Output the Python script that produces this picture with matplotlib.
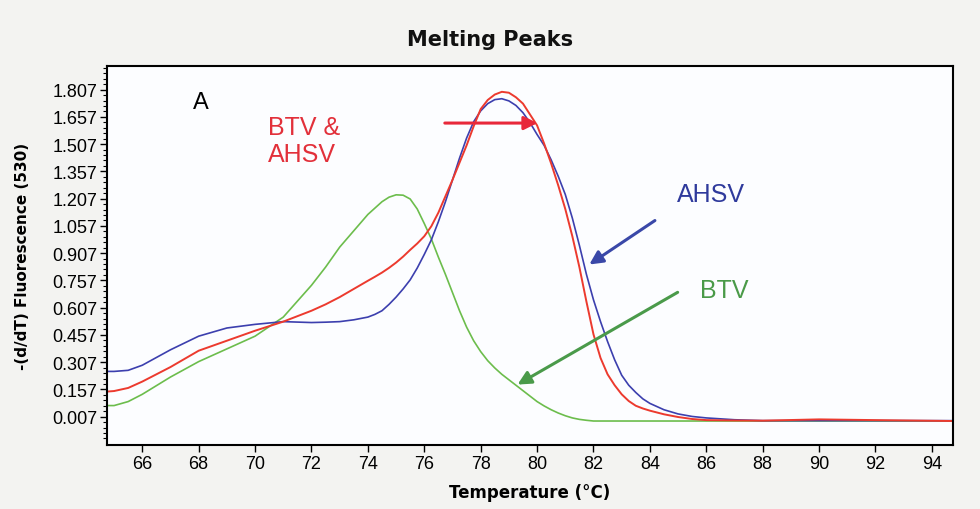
import matplotlib.pyplot as plt
from matplotlib.ticker import FixedLocator

# Temperatures (deg C) at which each melt curve was read
temp = [64.75, 65, 65.5, 66, 67, 68, 69, 70, 71, 72, 72.5, 73, 73.5,
        74, 74.25, 74.5, 74.75, 75, 75.25, 75.5, 75.75,
        76, 76.25, 76.5, 76.75, 77, 77.25, 77.5, 77.75,
        78, 78.25, 78.5, 78.75, 79, 79.25, 79.5, 79.75,
        80, 80.25, 80.5, 80.75, 81, 81.25, 81.5, 81.75,
        82, 82.25, 82.5, 82.75, 83, 83.25, 83.5, 83.75,
        84, 84.5, 85, 85.5, 86, 87, 88, 90, 92, 94.75]

# -(d/dT) fluorescence (530)
ahsv = [0.256, 0.256, 0.262, 0.29, 0.375, 0.45, 0.495, 0.515, 0.53, 0.525, 0.527, 0.53, 0.54,
        0.555, 0.57, 0.59, 0.625, 0.665, 0.71, 0.76, 0.825,
        0.9, 0.98, 1.08, 1.19, 1.31, 1.43, 1.54, 1.63,
        1.69, 1.73, 1.752, 1.757, 1.745, 1.72, 1.68, 1.625,
        1.56, 1.5, 1.42, 1.33, 1.23, 1.1, 0.95, 0.79,
        0.65, 0.53, 0.42, 0.32, 0.235, 0.18, 0.14, 0.105,
        0.08, 0.045, 0.022, 0.008, 0.0, -0.01, -0.015, -0.015, -0.015, -0.015]
btv_ahsv = [0.145, 0.148, 0.165, 0.2, 0.28, 0.37, 0.425, 0.48, 0.53, 0.59, 0.625, 0.665, 0.71,
            0.755, 0.777, 0.8, 0.826, 0.855, 0.888, 0.925, 0.96,
            1.0, 1.055, 1.13, 1.22, 1.31, 1.405, 1.5, 1.605,
            1.7, 1.75, 1.78, 1.795, 1.79, 1.765, 1.73, 1.67,
            1.61, 1.51, 1.4, 1.28, 1.15, 1.0, 0.83, 0.64,
            0.46, 0.33, 0.24, 0.18, 0.13, 0.093, 0.067, 0.052,
            0.04, 0.02, 0.005, -0.006, -0.012, -0.014, -0.015, -0.008, -0.012, -0.017]
btv = [0.068, 0.068, 0.09, 0.13, 0.225, 0.31, 0.38, 0.45, 0.555, 0.73, 0.83, 0.94, 1.03,
       1.12, 1.155, 1.19, 1.215, 1.228, 1.226, 1.205, 1.15,
       1.07, 0.985, 0.885, 0.79, 0.69, 0.59, 0.5, 0.425,
       0.365, 0.315, 0.275, 0.24, 0.21, 0.18, 0.15, 0.12,
       0.09, 0.066, 0.045, 0.027, 0.012, 0.0, -0.008, -0.013,
       -0.017, -0.017, -0.017, -0.017, -0.017, -0.017, -0.017, -0.017,
       -0.017, -0.017, -0.017, -0.017, -0.017, -0.017, -0.017, -0.017, -0.017, -0.017]

x_ticks = list(range(66, 95, 2))
y_ticks = [0.007, 0.157, 0.307, 0.457, 0.607, 0.757, 0.907, 1.057, 1.207,
           1.357, 1.507, 1.657, 1.807]
y_labels = ["0.007", "0.157", "0.307", "0.457", "0.607", "0.757", "0.907",
            "1.057", "1.207", "1.357", "1.507", "1.657", "1.807"]

fig = plt.figure(figsize=(9.8, 5.1), dpi=100, facecolor="#f3f3f1")
ax = fig.add_axes([0.1092, 0.1255, 0.8633, 0.7431], facecolor="#fcfdff")

line_kw = dict(solid_joinstyle="round", solid_capstyle="round")
ax.plot(temp, btv, color="#6cbd4c", lw=1.2, **line_kw)
ax.plot(temp, ahsv, color="#3c3fae", lw=1.2, **line_kw)
ax.plot(temp, btv_ahsv, color="#ec3a2e", lw=1.4, **line_kw)

ax.set_xlim(64.75, 94.75)
ax.set_ylim(-0.149, 1.937)

ax.set_xticks(x_ticks)
ax.set_xticklabels([str(t) for t in x_ticks], fontsize=13, family="Liberation Sans")
ax.yaxis.set_major_locator(FixedLocator(y_ticks))
ax.yaxis.set_minor_locator(FixedLocator([0.007 + 0.03 * k for k in range(-4, 65)]))
ax.set_yticklabels(y_labels, fontsize=13, family="Liberation Sans")
ax.tick_params(axis="both", which="major", direction="out", length=5, width=1, pad=2)
ax.tick_params(axis="y", which="minor", direction="out", length=3, width=0.8)
for sp in ax.spines.values():
    sp.set_linewidth(1.5)

ax.set_xlabel("Temperature (°C)", fontsize=12, fontweight="bold")
ax.set_ylabel("-(d/dT) Fluorescence (530)", fontsize=11, fontweight="bold")
ax.xaxis.set_label_coords(0.5, -0.10)
ax.yaxis.set_label_coords(-0.091, 0.5)

fig.text(0.5, 1 - 40 / 510, "Melting Peaks", ha="center", va="center",
         fontsize=15, fontweight="heavy", color="#111111")

# labels and arrows marking each peak
ax.text(67.8, 1.80, "A", fontsize=17, family="Liberation Sans", va="top")
ax.text(70.46, 1.665, "BTV &\nAHSV", fontsize=18, family="Liberation Sans",
        color="#e2303a", va="top", linespacing=1.15)
ax.text(84.96, 1.30, "AHSV", fontsize=18, family="Liberation Sans",
        color="#2f3a9c", va="top")
ax.text(85.78, 0.77, "BTV", fontsize=18, family="Liberation Sans",
        color="#4a9a48", va="top")

ax.annotate("", xy=(80.11, 1.623), xytext=(76.63, 1.623),
            arrowprops=dict(arrowstyle="-|>", color="#e8283a", lw=2.2, mutation_scale=20))
ax.annotate("", xy=(81.77, 0.836), xytext=(84.26, 1.095),
            arrowprops=dict(arrowstyle="-|>", color="#3a48a8", lw=2.2, mutation_scale=20))
ax.annotate("", xy=(79.22, 0.176), xytext=(85.07, 0.699),
            arrowprops=dict(arrowstyle="-|>", color="#4a9a4a", lw=2.2, mutation_scale=20))

fig.savefig("out.png", dpi=100, facecolor=fig.get_facecolor())
